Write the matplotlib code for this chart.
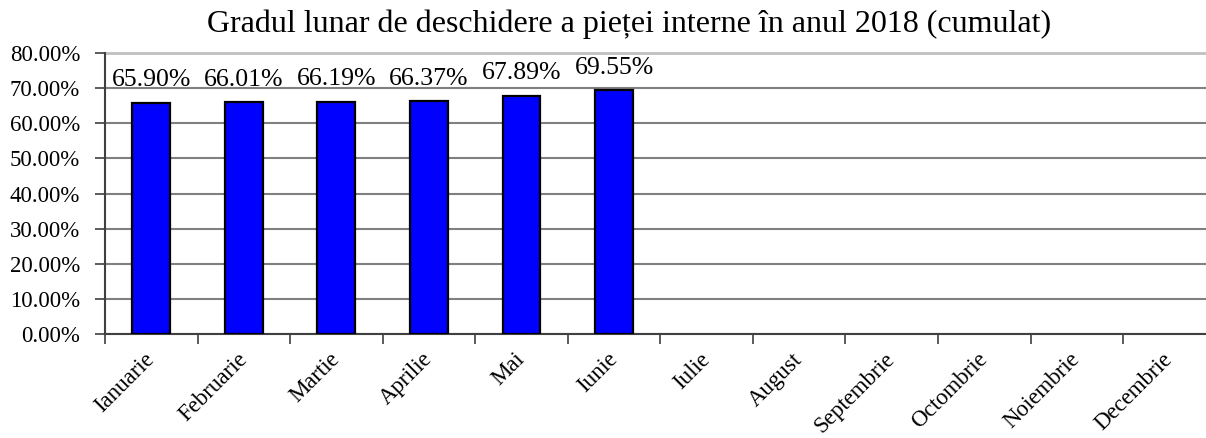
import matplotlib.pyplot as plt
from matplotlib.ticker import FixedLocator, NullFormatter

months = ['Ianuarie', 'Februarie', 'Martie', 'Aprilie', 'Mai', 'Iunie', 'Iulie',
          'August', 'Septembrie', 'Octombrie', 'Noiembrie', 'Decembrie']
values = [65.90, 66.01, 66.19, 66.37, 67.89, 69.55]
title = 'Gradul lunar de deschidere a pieței interne în anul 2018 (cumulat)'

plt.rcParams['font.family'] = ['Liberation Serif', 'DejaVu Serif']

fig = plt.figure(figsize=(12.06, 4.38), dpi=100)
ax = fig.add_axes([0.0871, 0.2374, 0.9209, 0.6416])

x = list(range(len(values)))
ax.bar(x, values, width=0.41, color='#0000ff', edgecolor='black', linewidth=1.6, zorder=3)
for xi, v in zip(x, values):
    ax.annotate(f'{v:.2f}%', (xi, v), xytext=(0, 8), textcoords='offset points',
                ha='center', va='bottom', fontsize=18.5)

ax.set_xlim(-0.5, len(months) - 0.5)
ax.set_ylim(0, 80)
ax.set_yticks(range(0, 81, 10))
ax.set_yticklabels([f'{t:.2f}%' for t in range(0, 81, 10)], fontsize=16.5)
ax.yaxis.grid(True, color='#808080', linewidth=1.5, zorder=0)
ax.set_axisbelow(True)

# ticks between categories, labels at centres
ax.xaxis.set_major_locator(FixedLocator([i - 0.5 for i in range(len(months) + 1)]))
ax.xaxis.set_major_formatter(NullFormatter())
ax.set_xticks(range(len(months)), minor=True)
ax.set_xticklabels(months, minor=True, rotation=45, ha='right', va='center',
                   rotation_mode='anchor', fontsize=16.5)
ax.tick_params(axis='x', which='major', length=7, width=1.2, color='#404040')
ax.tick_params(axis='x', which='minor', length=0, pad=16)
ax.tick_params(axis='y', length=7, width=1.2, color='#404040', pad=11)

for s in ['top', 'right']:
    ax.spines[s].set_visible(False)
ax.spines['left'].set_color('#404040')
ax.spines['left'].set_linewidth(1.5)
ax.spines['bottom'].set_color('#404040')
ax.spines['bottom'].set_linewidth(1.5)
ax.axhline(80, color='#c0c0c0', linewidth=2, zorder=1, clip_on=False)

fig.text(0.522, 0.945, title, ha='center', va='center', fontsize=23)

fig.savefig('out.png', dpi=100)
